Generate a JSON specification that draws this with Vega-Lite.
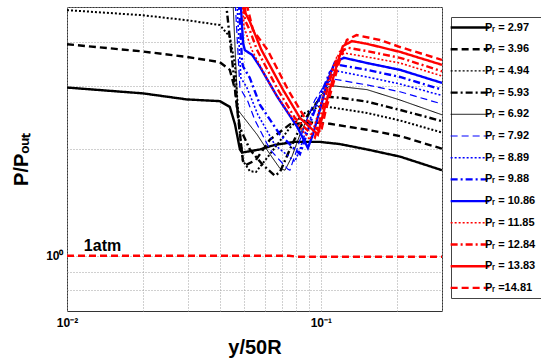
{
"$schema": "https://vega.github.io/schema/vega-lite/v6.json",
"width": 375, "height": 304,
"autosize": "none",
"padding": {"left": 67, "top": 7, "right": 99, "bottom": 47},
"background": "white",
"config": {
  "font": "Liberation Sans",
  "view": {"stroke": "#333333", "strokeWidth": 1},
  "axis": {"grid": true, "gridColor": "#a0a0a0", "gridDash": [1, 2], "gridWidth": 1, "gridOpacity": 1, "domain": false, "ticks": false, "labelFont": "Liberation Sans", "labelFontWeight": "bold", "labelFontSize": 12, "labelColor": "#000000", "labelOverlap": false, "labelFlush": false, "titleFont": "Liberation Sans", "titleFontWeight": "bold", "titleFontSize": 20, "titleColor": "#000000"}
},
"datasets": {
  "curves": [
    {"Pr":"Pᵣ = 2.97","x":0.01,"y":2.97},{"Pr":"Pᵣ = 2.97","x":0.0199,"y":2.86},{"Pr":"Pᵣ = 2.97","x":0.0297,"y":2.75},{"Pr":"Pᵣ = 2.97","x":0.04,"y":2.72},{"Pr":"Pᵣ = 2.97","x":0.0438,"y":2.62},{"Pr":"Pᵣ = 2.97","x":0.0459,"y":2.34},{"Pr":"Pᵣ = 2.97","x":0.048,"y":1.99},{"Pr":"Pᵣ = 2.97","x":0.0489,"y":1.95},{"Pr":"Pᵣ = 2.97","x":0.0575,"y":1.99},{"Pr":"Pᵣ = 2.97","x":0.0659,"y":2.05},{"Pr":"Pᵣ = 2.97","x":0.079,"y":2.09},{"Pr":"Pᵣ = 2.97","x":0.099,"y":2.09},{"Pr":"Pᵣ = 2.97","x":0.119,"y":2.06},{"Pr":"Pᵣ = 2.97","x":0.152,"y":1.99},{"Pr":"Pᵣ = 2.97","x":0.205,"y":1.9},{"Pr":"Pᵣ = 2.97","x":0.3,"y":1.74},

    {"Pr":"Pᵣ = 3.96","x":0.01,"y":3.93},{"Pr":"Pᵣ = 3.96","x":0.0199,"y":3.75},{"Pr":"Pᵣ = 3.96","x":0.0297,"y":3.62},{"Pr":"Pᵣ = 3.96","x":0.04,"y":3.5},{"Pr":"Pᵣ = 3.96","x":0.0438,"y":3.33},{"Pr":"Pᵣ = 3.96","x":0.0459,"y":2.93},{"Pr":"Pᵣ = 3.96","x":0.048,"y":2.2},{"Pr":"Pᵣ = 3.96","x":0.0493,"y":1.85},{"Pr":"Pᵣ = 3.96","x":0.0507,"y":1.8},{"Pr":"Pᵣ = 3.96","x":0.0555,"y":1.86},{"Pr":"Pᵣ = 3.96","x":0.063,"y":2.12},{"Pr":"Pᵣ = 3.96","x":0.0755,"y":2.34},{"Pr":"Pᵣ = 3.96","x":0.0905,"y":2.37},{"Pr":"Pᵣ = 3.96","x":0.1085,"y":2.35},{"Pr":"Pᵣ = 3.96","x":0.152,"y":2.26},{"Pr":"Pᵣ = 3.96","x":0.205,"y":2.17},{"Pr":"Pᵣ = 3.96","x":0.3,"y":2.0},

    {"Pr":"Pᵣ = 4.94","x":0.01,"y":4.9},{"Pr":"Pᵣ = 4.94","x":0.0199,"y":4.74},{"Pr":"Pᵣ = 4.94","x":0.0297,"y":4.59},{"Pr":"Pᵣ = 4.94","x":0.04,"y":4.45},{"Pr":"Pᵣ = 4.94","x":0.0438,"y":4.12},{"Pr":"Pᵣ = 4.94","x":0.0459,"y":3.44},{"Pr":"Pᵣ = 4.94","x":0.0471,"y":2.6},{"Pr":"Pᵣ = 4.94","x":0.048,"y":2.2},{"Pr":"Pᵣ = 4.94","x":0.0493,"y":1.85},{"Pr":"Pᵣ = 4.94","x":0.0525,"y":1.73},{"Pr":"Pᵣ = 4.94","x":0.0555,"y":1.72},{"Pr":"Pᵣ = 4.94","x":0.063,"y":1.93},{"Pr":"Pᵣ = 4.94","x":0.0755,"y":2.29},{"Pr":"Pᵣ = 4.94","x":0.0865,"y":2.52},{"Pr":"Pᵣ = 4.94","x":0.1,"y":2.64},{"Pr":"Pᵣ = 4.94","x":0.152,"y":2.52},{"Pr":"Pᵣ = 4.94","x":0.205,"y":2.4},{"Pr":"Pᵣ = 4.94","x":0.3,"y":2.22},

    {"Pr":"Pᵣ = 5.93","x":0.01,"y":5.93},{"Pr":"Pᵣ = 5.93","x":0.02,"y":5.78},{"Pr":"Pᵣ = 5.93","x":0.03,"y":5.62},{"Pr":"Pᵣ = 5.93","x":0.04,"y":5.48},{"Pr":"Pᵣ = 5.93","x":0.042,"y":5.4},{"Pr":"Pᵣ = 5.93","x":0.0471,"y":2.5},{"Pr":"Pᵣ = 5.93","x":0.048,"y":2.29},{"Pr":"Pᵣ = 5.93","x":0.0525,"y":1.99},{"Pr":"Pᵣ = 5.93","x":0.0591,"y":1.8},{"Pr":"Pᵣ = 5.93","x":0.0659,"y":1.68},{"Pr":"Pᵣ = 5.93","x":0.069,"y":1.72},{"Pr":"Pᵣ = 5.93","x":0.0755,"y":1.99},{"Pr":"Pᵣ = 5.93","x":0.0827,"y":2.29},{"Pr":"Pᵣ = 5.93","x":0.0905,"y":2.54},{"Pr":"Pᵣ = 5.93","x":0.0973,"y":2.72},{"Pr":"Pᵣ = 5.93","x":0.1037,"y":2.8},{"Pr":"Pᵣ = 5.93","x":0.1188,"y":2.78},{"Pr":"Pᵣ = 5.93","x":0.152,"y":2.71},{"Pr":"Pᵣ = 5.93","x":0.205,"y":2.57},{"Pr":"Pᵣ = 5.93","x":0.3,"y":2.39},

    {"Pr":"Pᵣ = 6.92","x":0.01,"y":6.92},{"Pr":"Pᵣ = 6.92","x":0.02,"y":6.75},{"Pr":"Pᵣ = 6.92","x":0.03,"y":6.6},{"Pr":"Pᵣ = 6.92","x":0.04,"y":6.45},{"Pr":"Pᵣ = 6.92","x":0.0445,"y":6.3},{"Pr":"Pᵣ = 6.92","x":0.0471,"y":2.57},{"Pr":"Pᵣ = 6.92","x":0.0561,"y":2.19},{"Pr":"Pᵣ = 6.92","x":0.063,"y":1.93},{"Pr":"Pᵣ = 6.92","x":0.069,"y":1.76},{"Pr":"Pᵣ = 6.92","x":0.0722,"y":1.74},{"Pr":"Pᵣ = 6.92","x":0.0769,"y":1.9},{"Pr":"Pᵣ = 6.92","x":0.0827,"y":2.19},{"Pr":"Pᵣ = 6.92","x":0.0905,"y":2.52},{"Pr":"Pᵣ = 6.92","x":0.0991,"y":2.8},{"Pr":"Pᵣ = 6.92","x":0.1066,"y":2.98},{"Pr":"Pᵣ = 6.92","x":0.1136,"y":3.0},{"Pr":"Pᵣ = 6.92","x":0.152,"y":2.93},{"Pr":"Pᵣ = 6.92","x":0.205,"y":2.74},{"Pr":"Pᵣ = 6.92","x":0.3,"y":2.49},

    {"Pr":"Pᵣ = 7.92","x":0.01,"y":7.92},{"Pr":"Pᵣ = 7.92","x":0.02,"y":7.75},{"Pr":"Pᵣ = 7.92","x":0.03,"y":7.6},{"Pr":"Pᵣ = 7.92","x":0.04,"y":7.42},{"Pr":"Pᵣ = 7.92","x":0.0448,"y":7.2},{"Pr":"Pᵣ = 7.92","x":0.048,"y":2.96},{"Pr":"Pᵣ = 7.92","x":0.0515,"y":2.72},{"Pr":"Pᵣ = 7.92","x":0.0549,"y":2.41},{"Pr":"Pᵣ = 7.92","x":0.063,"y":1.99},{"Pr":"Pᵣ = 7.92","x":0.0742,"y":1.75},{"Pr":"Pᵣ = 7.92","x":0.0755,"y":1.74},{"Pr":"Pᵣ = 7.92","x":0.0805,"y":1.99},{"Pr":"Pᵣ = 7.92","x":0.0865,"y":2.34},{"Pr":"Pᵣ = 7.92","x":0.0947,"y":2.74},{"Pr":"Pᵣ = 7.92","x":0.1037,"y":3.02},{"Pr":"Pᵣ = 7.92","x":0.1115,"y":3.14},{"Pr":"Pᵣ = 7.92","x":0.152,"y":3.02},{"Pr":"Pᵣ = 7.92","x":0.205,"y":2.89},{"Pr":"Pᵣ = 7.92","x":0.3,"y":2.67},

    {"Pr":"Pᵣ = 8.89","x":0.01,"y":8.89},{"Pr":"Pᵣ = 8.89","x":0.02,"y":8.7},{"Pr":"Pᵣ = 8.89","x":0.03,"y":8.5},{"Pr":"Pᵣ = 8.89","x":0.04,"y":8.3},{"Pr":"Pᵣ = 8.89","x":0.0452,"y":8.1},{"Pr":"Pᵣ = 8.89","x":0.0484,"y":3.16},{"Pr":"Pᵣ = 8.89","x":0.051,"y":2.98},{"Pr":"Pᵣ = 8.89","x":0.0565,"y":2.49},{"Pr":"Pᵣ = 8.89","x":0.0659,"y":2.05},{"Pr":"Pᵣ = 8.89","x":0.079,"y":1.84},{"Pr":"Pᵣ = 8.89","x":0.0827,"y":1.99},{"Pr":"Pᵣ = 8.89","x":0.0889,"y":2.34},{"Pr":"Pᵣ = 8.89","x":0.0973,"y":2.74},{"Pr":"Pᵣ = 8.89","x":0.1066,"y":3.12},{"Pr":"Pᵣ = 8.89","x":0.1146,"y":3.31},{"Pr":"Pᵣ = 8.89","x":0.152,"y":3.18},{"Pr":"Pᵣ = 8.89","x":0.205,"y":3.04},{"Pr":"Pᵣ = 8.89","x":0.3,"y":2.82},

    {"Pr":"Pᵣ = 9.88","x":0.01,"y":9.88},{"Pr":"Pᵣ = 9.88","x":0.02,"y":9.65},{"Pr":"Pᵣ = 9.88","x":0.03,"y":9.45},{"Pr":"Pᵣ = 9.88","x":0.04,"y":9.25},{"Pr":"Pᵣ = 9.88","x":0.0455,"y":9.0},{"Pr":"Pᵣ = 9.88","x":0.0489,"y":3.55},{"Pr":"Pᵣ = 9.88","x":0.0493,"y":3.41},{"Pr":"Pᵣ = 9.88","x":0.0525,"y":3.16},{"Pr":"Pᵣ = 9.88","x":0.0575,"y":2.66},{"Pr":"Pᵣ = 9.88","x":0.069,"y":2.19},{"Pr":"Pᵣ = 9.88","x":0.0827,"y":1.93},{"Pr":"Pᵣ = 9.88","x":0.0865,"y":2.12},{"Pr":"Pᵣ = 9.88","x":0.0922,"y":2.44},{"Pr":"Pᵣ = 9.88","x":0.1009,"y":2.89},{"Pr":"Pᵣ = 9.88","x":0.1085,"y":3.28},{"Pr":"Pᵣ = 9.88","x":0.1167,"y":3.44},{"Pr":"Pᵣ = 9.88","x":0.152,"y":3.33},{"Pr":"Pᵣ = 9.88","x":0.205,"y":3.18},{"Pr":"Pᵣ = 9.88","x":0.3,"y":2.93},

    {"Pr":"Pᵣ = 10.86","x":0.01,"y":10.86},{"Pr":"Pᵣ = 10.86","x":0.02,"y":10.6},{"Pr":"Pᵣ = 10.86","x":0.03,"y":10.4},{"Pr":"Pᵣ = 10.86","x":0.04,"y":10.15},{"Pr":"Pᵣ = 10.86","x":0.0458,"y":9.9},{"Pr":"Pᵣ = 10.86","x":0.0494,"y":3.95},{"Pr":"Pᵣ = 10.86","x":0.0502,"y":3.78},{"Pr":"Pᵣ = 10.86","x":0.0536,"y":3.67},{"Pr":"Pᵣ = 10.86","x":0.0575,"y":3.4},{"Pr":"Pᵣ = 10.86","x":0.0673,"y":2.8},{"Pr":"Pᵣ = 10.86","x":0.0805,"y":2.31},{"Pr":"Pᵣ = 10.86","x":0.0889,"y":2.01},{"Pr":"Pᵣ = 10.86","x":0.093,"y":2.19},{"Pr":"Pᵣ = 10.86","x":0.0991,"y":2.57},{"Pr":"Pᵣ = 10.86","x":0.1066,"y":3.12},{"Pr":"Pᵣ = 10.86","x":0.1136,"y":3.5},{"Pr":"Pᵣ = 10.86","x":0.1232,"y":3.6},{"Pr":"Pᵣ = 10.86","x":0.152,"y":3.48},{"Pr":"Pᵣ = 10.86","x":0.205,"y":3.33},{"Pr":"Pᵣ = 10.86","x":0.3,"y":3.06},

    {"Pr":"Pᵣ = 11.85","x":0.01,"y":11.85},{"Pr":"Pᵣ = 11.85","x":0.02,"y":11.6},{"Pr":"Pᵣ = 11.85","x":0.03,"y":11.35},{"Pr":"Pᵣ = 11.85","x":0.04,"y":11.1},{"Pr":"Pᵣ = 11.85","x":0.0455,"y":10.8},{"Pr":"Pᵣ = 11.85","x":0.0498,"y":4.4},{"Pr":"Pᵣ = 11.85","x":0.0534,"y":3.79},{"Pr":"Pᵣ = 11.85","x":0.0647,"y":2.93},{"Pr":"Pᵣ = 11.85","x":0.0755,"y":2.49},{"Pr":"Pᵣ = 11.85","x":0.0905,"y":2.12},{"Pr":"Pᵣ = 11.85","x":0.0947,"y":2.34},{"Pr":"Pᵣ = 11.85","x":0.1009,"y":2.74},{"Pr":"Pᵣ = 11.85","x":0.1085,"y":3.22},{"Pr":"Pᵣ = 11.85","x":0.1156,"y":3.62},{"Pr":"Pᵣ = 11.85","x":0.1243,"y":3.71},{"Pr":"Pᵣ = 11.85","x":0.152,"y":3.62},{"Pr":"Pᵣ = 11.85","x":0.205,"y":3.48},{"Pr":"Pᵣ = 11.85","x":0.3,"y":3.2},

    {"Pr":"Pᵣ = 12.84","x":0.01,"y":12.84},{"Pr":"Pᵣ = 12.84","x":0.02,"y":12.55},{"Pr":"Pᵣ = 12.84","x":0.03,"y":12.3},{"Pr":"Pᵣ = 12.84","x":0.04,"y":12.0},{"Pr":"Pᵣ = 12.84","x":0.0455,"y":11.7},{"Pr":"Pᵣ = 12.84","x":0.0502,"y":4.6},{"Pr":"Pᵣ = 12.84","x":0.0525,"y":4.3},{"Pr":"Pᵣ = 12.84","x":0.056,"y":3.79},{"Pr":"Pᵣ = 12.84","x":0.0677,"y":2.93},{"Pr":"Pᵣ = 12.84","x":0.079,"y":2.44},{"Pr":"Pᵣ = 12.84","x":0.0947,"y":2.15},{"Pr":"Pᵣ = 12.84","x":0.0991,"y":2.41},{"Pr":"Pᵣ = 12.84","x":0.1046,"y":2.83},{"Pr":"Pᵣ = 12.84","x":0.1115,"y":3.33},{"Pr":"Pᵣ = 12.84","x":0.1188,"y":3.74},{"Pr":"Pᵣ = 12.84","x":0.1278,"y":3.84},{"Pr":"Pᵣ = 12.84","x":0.152,"y":3.76},{"Pr":"Pᵣ = 12.84","x":0.205,"y":3.6},{"Pr":"Pᵣ = 12.84","x":0.3,"y":3.3},

    {"Pr":"Pᵣ = 13.83","x":0.01,"y":13.83},{"Pr":"Pᵣ = 13.83","x":0.02,"y":13.5},{"Pr":"Pᵣ = 13.83","x":0.03,"y":13.2},{"Pr":"Pᵣ = 13.83","x":0.04,"y":12.9},{"Pr":"Pᵣ = 13.83","x":0.0455,"y":12.6},{"Pr":"Pᵣ = 13.83","x":0.0505,"y":4.8},{"Pr":"Pᵣ = 13.83","x":0.0525,"y":4.55},{"Pr":"Pᵣ = 13.83","x":0.0583,"y":3.79},{"Pr":"Pᵣ = 13.83","x":0.0709,"y":2.93},{"Pr":"Pᵣ = 13.83","x":0.0827,"y":2.44},{"Pr":"Pᵣ = 13.83","x":0.0973,"y":2.19},{"Pr":"Pᵣ = 13.83","x":0.1018,"y":2.49},{"Pr":"Pᵣ = 13.83","x":0.1085,"y":2.93},{"Pr":"Pᵣ = 13.83","x":0.1156,"y":3.44},{"Pr":"Pᵣ = 13.83","x":0.122,"y":3.88},{"Pr":"Pᵣ = 13.83","x":0.1325,"y":4.01},{"Pr":"Pᵣ = 13.83","x":0.152,"y":3.94},{"Pr":"Pᵣ = 13.83","x":0.205,"y":3.74},{"Pr":"Pᵣ = 13.83","x":0.3,"y":3.44},

    {"Pr":"Pᵣ =14.81","x":0.01,"y":14.81},{"Pr":"Pᵣ =14.81","x":0.02,"y":14.5},{"Pr":"Pᵣ =14.81","x":0.03,"y":14.15},{"Pr":"Pᵣ =14.81","x":0.04,"y":13.85},{"Pr":"Pᵣ =14.81","x":0.0455,"y":13.5},{"Pr":"Pᵣ =14.81","x":0.051,"y":5.1},{"Pr":"Pᵣ =14.81","x":0.054,"y":4.31},{"Pr":"Pᵣ =14.81","x":0.0616,"y":3.79},{"Pr":"Pᵣ =14.81","x":0.0742,"y":2.93},{"Pr":"Pᵣ =14.81","x":0.0865,"y":2.44},{"Pr":"Pᵣ =14.81","x":0.1,"y":2.22},{"Pr":"Pᵣ =14.81","x":0.1046,"y":2.57},{"Pr":"Pᵣ =14.81","x":0.1115,"y":3.02},{"Pr":"Pᵣ =14.81","x":0.1188,"y":3.55},{"Pr":"Pᵣ =14.81","x":0.1266,"y":4.04},{"Pr":"Pᵣ =14.81","x":0.1382,"y":4.17},{"Pr":"Pᵣ =14.81","x":0.1707,"y":4.04},{"Pr":"Pᵣ =14.81","x":0.205,"y":3.86},{"Pr":"Pᵣ =14.81","x":0.3,"y":3.55}
  ],
  "atm": [
    {"x": 0.01, "y": 1.0}, {"x": 0.075, "y": 1.0}, {"x": 0.08, "y": 0.995}, {"x": 0.3, "y": 0.995}
  ],
  "notes": [
    {"x": 0.0138, "y": 1.03, "label": "1atm"}
  ]
},
"encoding": {
  "x": {"field": "x", "type": "quantitative", "scale": {"type": "log", "domain": [0.01, 0.3], "nice": false},
        "axis": {"values": [0.01, 0.02, 0.03, 0.04, 0.05, 0.06, 0.07, 0.08, 0.09, 0.1, 0.2, 0.3],
                 "labelExpr": "datum.value == 0.01 ? '10⁻²' : (datum.value == 0.1 ? '10⁻¹' : '')",
                 "title": "y/50R", "labelPadding": 6, "titleY": 42, "titleBaseline": "alphabetic"}},
  "y": {"field": "y", "type": "quantitative", "scale": {"type": "log", "domain": [0.7, 5], "nice": false},
        "axis": {"values": [0.8, 0.9, 1, 2, 3, 4, 5],
                 "labelExpr": "datum.value == 1 ? '10⁰' : ''",
                 "title": "P/Pₒᵤₜ", "titleAngle": -90, "titleX": -40, "titleBaseline": "alphabetic", "labelPadding": 4}}
},
"layer": [
  {
    "data": {"name": "atm"},
    "mark": {"type": "line", "color": "#ff0000", "strokeWidth": 2.5, "strokeDash": [7, 4]}
  },
  {
    "data": {"name": "curves"},
    "mark": {"type": "line", "clip": true},
    "encoding": {
      "color": {"field": "Pr", "type": "nominal",
        "scale": {"domain": ["Pᵣ = 2.97","Pᵣ = 3.96","Pᵣ = 4.94","Pᵣ = 5.93","Pᵣ = 6.92","Pᵣ = 7.92","Pᵣ = 8.89","Pᵣ = 9.88","Pᵣ = 10.86","Pᵣ = 11.85","Pᵣ = 12.84","Pᵣ = 13.83","Pᵣ =14.81"],
                  "range": ["#000000","#000000","#000000","#000000","#000000","#0000ff","#0000ff","#0000ff","#0000ff","#ff0000","#ff0000","#ff0000","#ff0000"]},
        "legend": {"title": null, "orient": "none", "legendX": 384, "legendY": 10, "symbolType": "stroke", "symbolSize": 1500,
                   "labelFont": "Liberation Sans", "labelFontSize": 11, "labelFontWeight": "bold", "labelColor": "#000000", "labelOffset": 2, "labelLimit": 200,
                   "rowPadding": 9.7, "padding": 5, "strokeColor": "#444444", "fillColor": "white", "cornerRadius": 0,
                   "encode": {
                     "symbols": {"update": {"x": {"value": 14}, "strokeWidth": {"signal": "datum.value === 'Pᵣ = 6.92' ? 1 : (datum.value === 'Pᵣ = 7.92' ? 1.2 : ((datum.value === 'Pᵣ = 8.89' || datum.value === 'Pᵣ = 11.85' || datum.value === 'Pᵣ = 4.94') ? 1.4 : 2.4))"}}},
                     "labels": {"update": {"x": {"value": 29}}}
                   }}
      },
      "strokeDash": {"field": "Pr", "type": "nominal",
        "scale": {"domain": ["Pᵣ = 2.97","Pᵣ = 3.96","Pᵣ = 4.94","Pᵣ = 5.93","Pᵣ = 6.92","Pᵣ = 7.92","Pᵣ = 8.89","Pᵣ = 9.88","Pᵣ = 10.86","Pᵣ = 11.85","Pᵣ = 12.84","Pᵣ = 13.83","Pᵣ =14.81"],
                  "range": [[1,0],[7,4],[2,2],[7,3,2,3],[1,0],[7,4],[2,2],[7,3,2,3],[1,0],[2,2],[7,3,2,3],[1,0],[7,4]]}},
      "strokeWidth": {"condition": [
          {"test": "datum.Pr === 'Pᵣ = 6.92'", "value": 1},
          {"test": "datum.Pr === 'Pᵣ = 7.92'", "value": 1.2},
          {"test": "datum.Pr === 'Pᵣ = 8.89' || datum.Pr === 'Pᵣ = 11.85'", "value": 1.6},
          {"test": "datum.Pr === 'Pᵣ = 4.94'", "value": 2}
        ], "value": 2.4}
    }
  },
  {
    "data": {"name": "notes"},
    "mark": {"type": "text", "font": "Liberation Sans", "fontWeight": "bold", "fontSize": 16, "align": "center", "baseline": "alphabetic", "color": "#000000"},
    "encoding": {"text": {"field": "label", "type": "nominal"}}
  }
]
}
